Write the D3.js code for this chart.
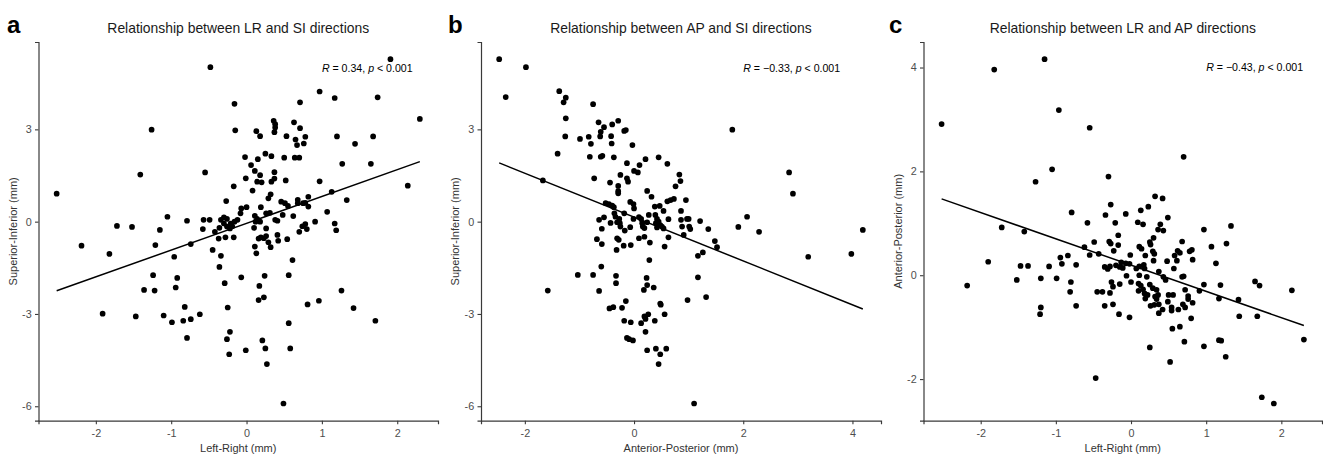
<!DOCTYPE html>
<html>
<head>
<meta charset="utf-8">
<script src="https://cdn.jsdelivr.net/npm/d3@7"></script>
<style>
  body { margin: 0; background: #fff; }
  svg { display: block; font-family: 'Liberation Sans', Arial, sans-serif; }
</style>
</head>
<body>
<svg id="chart" width="1323" height="455"></svg>
<script>
(function () {
  'use strict';

  // panel a: Left-Right (x) vs Superior-Inferior (y), mm
  var lrSiPoints = [
    [-2.52, 0.91], [-0.48, 5.02], [1.91, 5.28], [2.30, 3.34], [0.97, 4.23], [1.17, 4.02], [1.74, 4.04], [0.71, 3.88],
    [-0.16, 3.83], [-1.26, 2.99], [-0.15, 2.97], [-1.41, 1.53], [-0.55, 1.60], [1.20, 2.77], [1.44, 2.53], [1.68, 2.77],
    [1.27, 1.88], [1.65, 1.88], [2.14, 1.17], [1.33, 0.70], [0.97, 1.31], [1.13, 0.97], [1.07, 0.32],
    [0.36, 3.28], [0.38, 3.17], [0.38, 3.06], [0.37, 2.91], [0.13, 2.94], [0.18, 2.78], [0.63, 3.23], [0.71, 3.04],
    [0.53, 2.78], [0.65, 2.67], [0.78, 2.76], [0.67, 2.49], [0.76, 2.54],
    [-0.02, 2.10], [0.25, 2.21], [0.33, 2.13], [0.15, 2.03], [0.50, 2.08], [0.64, 2.08], [0.70, 2.08],
    [0.06, 1.84], [0.11, 1.65], [0.18, 1.51], [0.37, 1.61], [-0.01, 1.41], [0.14, 1.30], [0.20, 1.28], [0.33, 1.30],
    [0.37, 1.40], [0.52, 1.34], [-0.17, 1.15], [0.08, 1.01], [0.32, 0.89], [0.29, 0.76], [-0.27, 0.67], [0.46, 0.65],
    [0.51, 0.60], [0.68, 0.71], [0.82, 0.81], [0.75, 0.60], [0.55, 0.51], [0.68, 0.60], [0.78, 0.61], [0.82, 0.49],
    [-0.07, 0.43], [0.00, 0.47], [0.19, 0.47], [-0.08, 0.27],
    [-0.79, 0.03], [-0.57, 0.06], [-0.49, 0.06], [-0.58, -0.24], [-0.34, 0.06], [-0.30, 0.14], [-0.26, 0.09],
    [-0.30, -0.06], [-0.21, -0.06], [-0.16, 0.00], [-0.12, 0.06], [-0.36, -0.20], [-0.26, -0.16], [-0.19, -0.15],
    [-0.22, -0.22], [-0.42, -0.33], [-0.37, -0.55], [-0.28, -0.51], [-0.17, -0.51],
    [0.11, 0.19], [0.14, 0.09], [0.12, 0.00], [0.10, -0.20], [0.18, 0.00], [0.26, 0.27], [0.31, 0.29], [0.26, -0.22],
    [0.38, 0.06], [0.41, 0.03], [0.48, 0.22], [0.62, 0.18],
    [0.16, -0.55], [0.19, -0.51], [0.23, -0.54], [0.26, -0.47], [0.29, -0.67], [0.32, -0.83], [0.41, -0.43], [0.42, -0.62],
    [0.54, -0.57], [0.70, -0.33], [0.74, -0.15], [0.78, -0.08], [0.80, -0.24], [0.91, 0.00], [1.17, -0.06], [1.19, -0.28],
    [-0.74, -0.73], [-0.96, -1.14], [-0.45, -0.92], [-0.34, -1.11], [0.11, -0.81], [0.13, -1.03], [-0.36, -1.47],
    [0.61, -1.25], [-0.92, -1.83], [-0.94, -2.14], [-0.07, -1.81], [-0.29, -2.00], [0.24, -1.76], [0.56, -1.74],
    [0.17, -2.09], [0.23, -2.46], [0.16, -2.55], [1.26, -2.24],
    [-2.19, -0.78], [-1.72, -0.14], [-1.52, -0.17], [-1.82, -1.05], [-1.15, -0.27], [-1.21, -0.76], [-1.24, -1.74],
    [-1.36, -2.22], [-1.22, -2.24], [-1.91, -2.99], [-1.47, -3.08], [-1.10, -3.05], [-0.99, -3.27], [-0.82, -2.77],
    [-0.84, -3.22], [-0.74, -3.17], [-0.62, -3.01], [-0.79, -3.78], [-0.25, -2.79], [-0.22, -3.58], [-0.26, -3.82],
    [-0.23, -4.31], [-0.01, -4.18], [0.21, -3.86], [0.25, -4.12], [0.27, -4.63], [0.56, -3.30], [0.58, -4.12],
    [0.49, -5.91], [0.81, -2.69], [0.96, -2.57], [1.42, -2.81], [1.71, -3.22], [-1.05, 0.16]
  ];

  // panel b: Anterior-Posterior (x) vs Superior-Inferior (y), mm
  var apSiPoints = [
    [-2.47, 5.28], [-1.98, 5.02], [-2.35, 4.05], [-1.37, 4.24], [-1.25, 4.03], [-1.29, 3.88], [-1.25, 3.36], [-1.26, 2.77],
    [-0.75, 3.82], [-1.40, 2.21], [-1.67, 1.34], [-0.99, 2.69], [-0.83, 2.76], [-0.79, 2.53], [-0.81, 2.11], [-0.73, 1.41],
    [-0.65, 3.23], [-0.55, 3.07], [-0.61, 2.92], [-0.62, 2.77], [-0.42, 2.78], [-0.41, 2.54], [-0.61, 2.11], [-0.58, 2.14],
    [-0.37, 2.09], [-0.40, 3.16], [-0.29, 3.28], [-0.18, 2.95], [-0.15, 2.98], [-0.03, 2.49],
    [-0.44, 1.27], [-0.13, 1.90], [-0.25, 1.52], [-0.13, 1.41], [-0.11, 1.30], [-0.29, 1.16], [-0.29, 0.99], [-0.29, 0.92],
    [0.10, 1.84], [0.21, 2.03], [0.45, 2.09], [0.61, 1.88], [0.00, 1.65], [0.07, 1.60],
    [-0.07, 0.64], [-0.01, 0.57], [0.24, 1.00], [0.32, 0.81], [0.38, 0.49], [0.47, 0.51], [0.61, 0.66], [0.67, 0.70],
    [0.73, 0.74], [0.83, 1.53], [0.85, 1.32], [0.76, 1.15], [0.95, 0.70],
    [1.80, 2.99], [2.84, 1.60], [2.91, 0.91], [2.07, 0.16],
    [-0.52, 0.60], [-0.46, 0.57], [-0.40, 0.52], [-0.37, 0.47], [0.86, 0.35], [0.97, 0.09], [1.21, 0.02], [-0.64, 0.06],
    [-0.55, 0.14], [-0.36, 0.27], [-0.18, 0.27], [0.00, 0.43], [0.54, 0.35],
    [-0.59, -0.23], [-0.68, -0.57], [-0.59, -0.73], [-0.43, -0.04], [-0.34, 0.16], [-0.27, 0.09], [-0.31, -0.02],
    [-0.26, -0.05], [-0.25, -0.16], [-0.17, -0.29], [-0.31, -0.54], [-0.28, -0.59], [-0.32, -0.92], [-0.19, -0.78],
    [-0.06, -0.76], [-0.07, -0.18], [-0.01, 0.09],
    [0.09, 0.15], [0.13, 0.09], [0.15, -0.05], [0.16, -0.16], [0.19, -0.21], [0.27, 0.22], [0.24, -0.02], [0.09, -0.54],
    [0.19, -0.49], [0.29, -0.68],
    [0.39, 0.22], [0.42, 0.09], [0.40, -0.05], [0.45, 0.00], [0.48, -0.11], [0.42, -0.19], [0.51, -0.16], [0.54, -0.22],
    [0.63, 0.08], [0.63, -0.51], [0.56, -0.81],
    [0.86, 0.06], [0.88, -0.16], [1.00, 0.09], [1.01, -0.16], [1.03, -0.24], [0.91, -0.43], [1.36, -0.24], [1.48, -0.63],
    [1.52, -0.83], [1.17, -1.11], [1.26, -1.00],
    [0.28, -1.25], [-0.60, -1.46], [-1.03, -1.73], [-0.75, -1.73], [-0.33, -1.76], [-0.33, -2.00], [0.23, -1.83],
    [0.24, -2.06], [0.18, -2.22], [0.36, -2.14], [-0.64, -2.25], [1.17, -1.81], [1.32, -2.45], [0.98, -2.55],
    [-0.15, -2.58], [0.48, -2.66],
    [-1.58, -2.24], [-0.45, -2.82], [-0.38, -2.78], [-0.22, -2.80], [-0.18, -3.22], [-0.06, -3.27], [-0.13, -3.78],
    [-0.09, -3.82], [-0.02, -3.86], [0.13, -3.30], [0.19, -3.08], [0.21, -3.16], [0.26, -3.01], [0.21, -3.58],
    [0.38, -3.22], [0.24, -4.18], [0.40, -4.13], [0.45, -4.63], [0.48, -4.31], [0.59, -4.13], [0.56, -3.01],
    [0.49, -2.70], [1.10, -5.91],
    [1.91, -0.17], [2.29, -0.33], [3.19, -1.14], [3.98, -1.05], [4.19, -0.27]
  ];

  // panel c: Left-Right (x) vs Anterior-Posterior (y), mm
  var lrApPoints = [
    [-2.52, 2.91], [-1.82, 3.96], [-1.15, 4.16], [-0.96, 3.18], [-0.55, 2.84], [0.70, 2.28], [-1.05, 2.04], [-1.27, 1.80],
    [-0.30, 1.90], [-1.72, 0.92], [-0.79, 1.21], [-0.58, 1.01], [-0.34, 1.16], [-0.27, 1.36], [-0.21, 1.01], [-0.07, 1.18],
    [0.09, 1.02], [0.16, 0.98], [0.13, 1.25], [0.23, 1.32], [0.32, 1.52], [0.42, 1.48], [0.49, 1.11], [0.97, 0.88],
    [1.33, 0.95],
    [0.39, 0.98], [0.36, 0.88], [0.43, 0.86], [0.30, 0.72], [0.25, 0.64], [0.26, 0.59], [0.29, 0.46], [0.31, 0.41],
    [0.11, 0.55], [0.14, 0.51], [-0.01, 0.39], [0.19, 0.38], [0.30, 0.28], [-0.17, 0.77], [-0.29, 0.65], [-0.27, 0.61],
    [-0.17, 0.58], [-0.49, 0.64], [-0.62, 0.54], [-0.23, 0.47], [-0.55, 0.39], [-0.43, 0.41], [-0.94, 0.34],
    [-0.84, 0.38], [-0.92, 0.22], [-0.73, 0.20], [-1.09, 0.17],
    [0.68, 0.65], [1.07, 0.55], [1.27, 0.61], [0.62, 0.47], [0.65, 0.43], [0.78, 0.46], [0.81, 0.49], [0.58, 0.38],
    [0.48, 0.27], [0.61, 0.28], [0.82, 0.30], [1.13, 0.23], [0.57, 0.13],
    [-0.35, 0.16], [-0.28, 0.17], [-0.20, 0.19], [-0.13, 0.25], [-0.07, 0.23], [-0.02, 0.22], [0.11, 0.17], [0.17, 0.20],
    [-1.20, -0.06], [-0.99, -0.06], [-0.80, -0.13], [-0.81, -0.32], [-0.73, -0.59], [-1.20, -0.62], [-1.21, -0.75],
    [-0.45, -0.32], [-0.38, -0.32], [-0.28, -0.34], [-0.26, -0.13], [-0.24, -0.22], [-0.15, -0.17], [-0.35, -0.59],
    [-0.24, -0.56], [-0.16, -0.75], [-0.02, -0.81], [-0.31, 0.12], [-0.15, 0.16], [-0.11, 0.14],
    [-0.06, -0.01], [0.00, -0.13], [0.07, 0.13], [0.11, 0.00], [0.18, 0.13], [0.21, -0.03], [0.10, -0.16], [0.13, -0.20],
    [0.16, -0.27], [0.10, -0.30], [0.18, -0.35], [0.22, -0.38], [0.19, -0.45], [0.25, -0.18], [0.29, -0.25], [0.34, -0.28],
    [0.32, -0.41], [0.36, -0.38], [0.34, -0.46], [0.26, -0.59], [0.31, -0.57], [0.37, -0.56], [0.37, -0.73], [0.42, -0.66],
    [0.37, 0.07], [0.43, -0.03], [0.46, -0.09],
    [0.68, -0.03], [0.70, -0.02], [0.72, -0.28], [0.76, -0.40], [0.76, -0.46], [0.82, -0.53], [0.50, -0.38], [0.56, -0.38],
    [0.49, -0.51], [0.54, -0.62], [0.54, -0.68], [0.63, -0.66], [0.69, -0.56], [0.72, -0.62], [0.80, -0.83], [0.91, -0.30],
    [0.97, -0.18], [1.19, -0.19], [1.17, -0.45], [1.43, -0.47], [1.44, -0.79], [0.55, -1.03], [0.65, -0.99], [0.71, -1.28],
    [0.97, -1.37], [1.17, -1.25], [1.20, -1.26], [0.25, -1.39],
    [-2.18, -0.20], [-1.90, 0.26], [-1.52, -0.09], [-1.47, 0.18], [-1.37, 0.18], [-1.42, 0.84], [-0.47, -1.98],
    [0.52, -1.67], [1.26, -1.57], [1.65, -0.12], [1.71, -0.20], [1.68, -0.79], [2.14, -0.29], [2.30, -1.24],
    [1.74, -2.35], [1.90, -2.47]
  ];

  // fitted lines: [slope, intercept]
  var lrSiFit = [0.871, -0.053];
  var apSiFit = [-0.713, 0.149];
  var lrApFit = [-0.506, 0.195];

  var lrTicks = [-2, -1, 0, 1, 2];
  var apTicks = [-2, 0, 2, 4];
  var siTicks = [-6, -3, 0, 3];

  var corrLabels = ['0.34', '\u22120.33', '\u22120.43'];
  var corrLabelPos = [[1, 5], [2, 5], [1, 4]];

  var titles = [
    'Relationship between LR and SI directions',
    'Relationship between AP and SI directions',
    'Relationship between LR and AP directions'
  ];
  var letters = ['a', 'b', 'c'];
  var xLabels = ['Left-Right (mm)', 'Anterior-Posterior (mm)', 'Left-Right (mm)'];
  var yLabels = ['Superior-Inferior (mm)', 'Superior-Inferior (mm)', 'Anterior-Posterior (mm)'];

  function init () {
    var svg = d3.select('#chart');
    var panels = [
      { points: lrSiPoints, fit: lrSiFit, xTicks: lrTicks, yTicks: siTicks, left: 38.5, right: 438, offset: 0 },
      { points: apSiPoints, fit: apSiFit, xTicks: apTicks, yTicks: siTicks, left: 481, right: 881, offset: 441 },
      { points: lrApPoints, fit: lrApFit, xTicks: lrTicks, yTicks: apTicks, left: 923.5, right: 1322, offset: 882 }
    ];
    panels.forEach(function (p, i) {
      drawPanel(svg, p, i);
    });
  }

  // ggplot style 5% expansion
  function expand (ext) {
    var pad = (ext[1] - ext[0]) * 0.05;
    return [ext[0] - pad, ext[1] + pad];
  }

  function drawPanel (svg, p, i) {
    var top = 42;
    var bottom = 420.7;
    var xExt = d3.extent(p.points, function (d) { return d[0]; });
    var yExt = d3.extent(p.points, function (d) { return d[1]; });

    var x = d3.scaleLinear().domain(expand(xExt)).range([p.left, p.right]);
    var y = d3.scaleLinear().domain(expand(yExt)).range([bottom, top]);

    var g = svg.append('g');

    // panel letter and title
    g.append('text')
      .attr('x', p.offset + 7)
      .attr('y', 32.5)
      .attr('font-size', 24)
      .attr('font-weight', 'bold')
      .attr('fill', '#000')
      .text(letters[i]);

    g.append('text')
      .attr('x', (p.left + p.right) / 2)
      .attr('y', 32.5)
      .attr('text-anchor', 'middle')
      .attr('font-size', 13.9)
      .attr('fill', '#1a1a1a')
      .text(titles[i]);

    // axes
    var xAxis = g.append('g')
      .attr('transform', 'translate(0,' + bottom + ')')
      .call(d3.axisBottom(x).tickValues(p.xTicks).tickSizeOuter(0).tickSize(3.5).tickPadding(5.3));

    var yAxis = g.append('g')
      .attr('transform', 'translate(' + p.left + ',0)')
      .call(d3.axisLeft(y).tickValues(p.yTicks).tickSizeOuter(0).tickSize(3.5).tickPadding(3.3));

    [xAxis, yAxis].forEach(function (ax) {
      ax.select('.domain').attr('stroke', '#3a3a3a').attr('stroke-width', 1.2);
      ax.selectAll('.tick line').attr('stroke', '#3a3a3a').attr('stroke-width', 1.1);
      ax.selectAll('.tick text')
        .text(function (d) { return String(d).replace('\u2212', '-'); })
        .attr('fill', '#4d4d4d')
        .attr('font-size', 10.8)
        .attr('font-family', "'Liberation Sans', Arial, sans-serif");
    });

    // axis titles
    g.append('text')
      .attr('x', (p.left + p.right) / 2)
      .attr('y', 451.5)
      .attr('text-anchor', 'middle')
      .attr('font-size', 11)
      .attr('fill', '#333')
      .text(xLabels[i]);

    g.append('text')
      .attr('transform', 'translate(' + (p.left - 22) + ',' + ((top + bottom) / 2) + ') rotate(-90)')
      .attr('text-anchor', 'middle')
      .attr('font-size', 11)
      .attr('fill', '#333')
      .text(yLabels[i]);

    // points
    g.selectAll('.dot')
      .data(p.points)
      .enter()
      .append('circle')
      .attr('class', 'dot')
      .attr('cx', function (d) { return x(d[0]); })
      .attr('cy', function (d) { return y(d[1]); })
      .attr('r', 2.85)
      .attr('fill', '#000');

    // regression line over the data range
    var line = d3.line()
      .x(function (d) { return x(d); })
      .y(function (d) { return y(p.fit[0] * d + p.fit[1]); });
    g.append('path')
      .datum(xExt)
      .attr('d', line)
      .attr('fill', 'none')
      .attr('stroke', '#000')
      .attr('stroke-width', 1.5);

    // correlation label
    var lab = g.append('text')
      .attr('x', x(corrLabelPos[i][0]))
      .attr('y', y(corrLabelPos[i][1]))
      .attr('dy', '0.35em')
      .attr('font-size', 10.6)
      .attr('fill', '#000');
    lab.append('tspan').attr('font-style', 'italic').text('R');
    lab.append('tspan').text(' = ' + corrLabels[i] + ', ');
    lab.append('tspan').attr('font-style', 'italic').text('p');
    lab.append('tspan').text(' < 0.001');
  }

  window.addEventListener('load', init);
}());
</script>
</body>
</html>
